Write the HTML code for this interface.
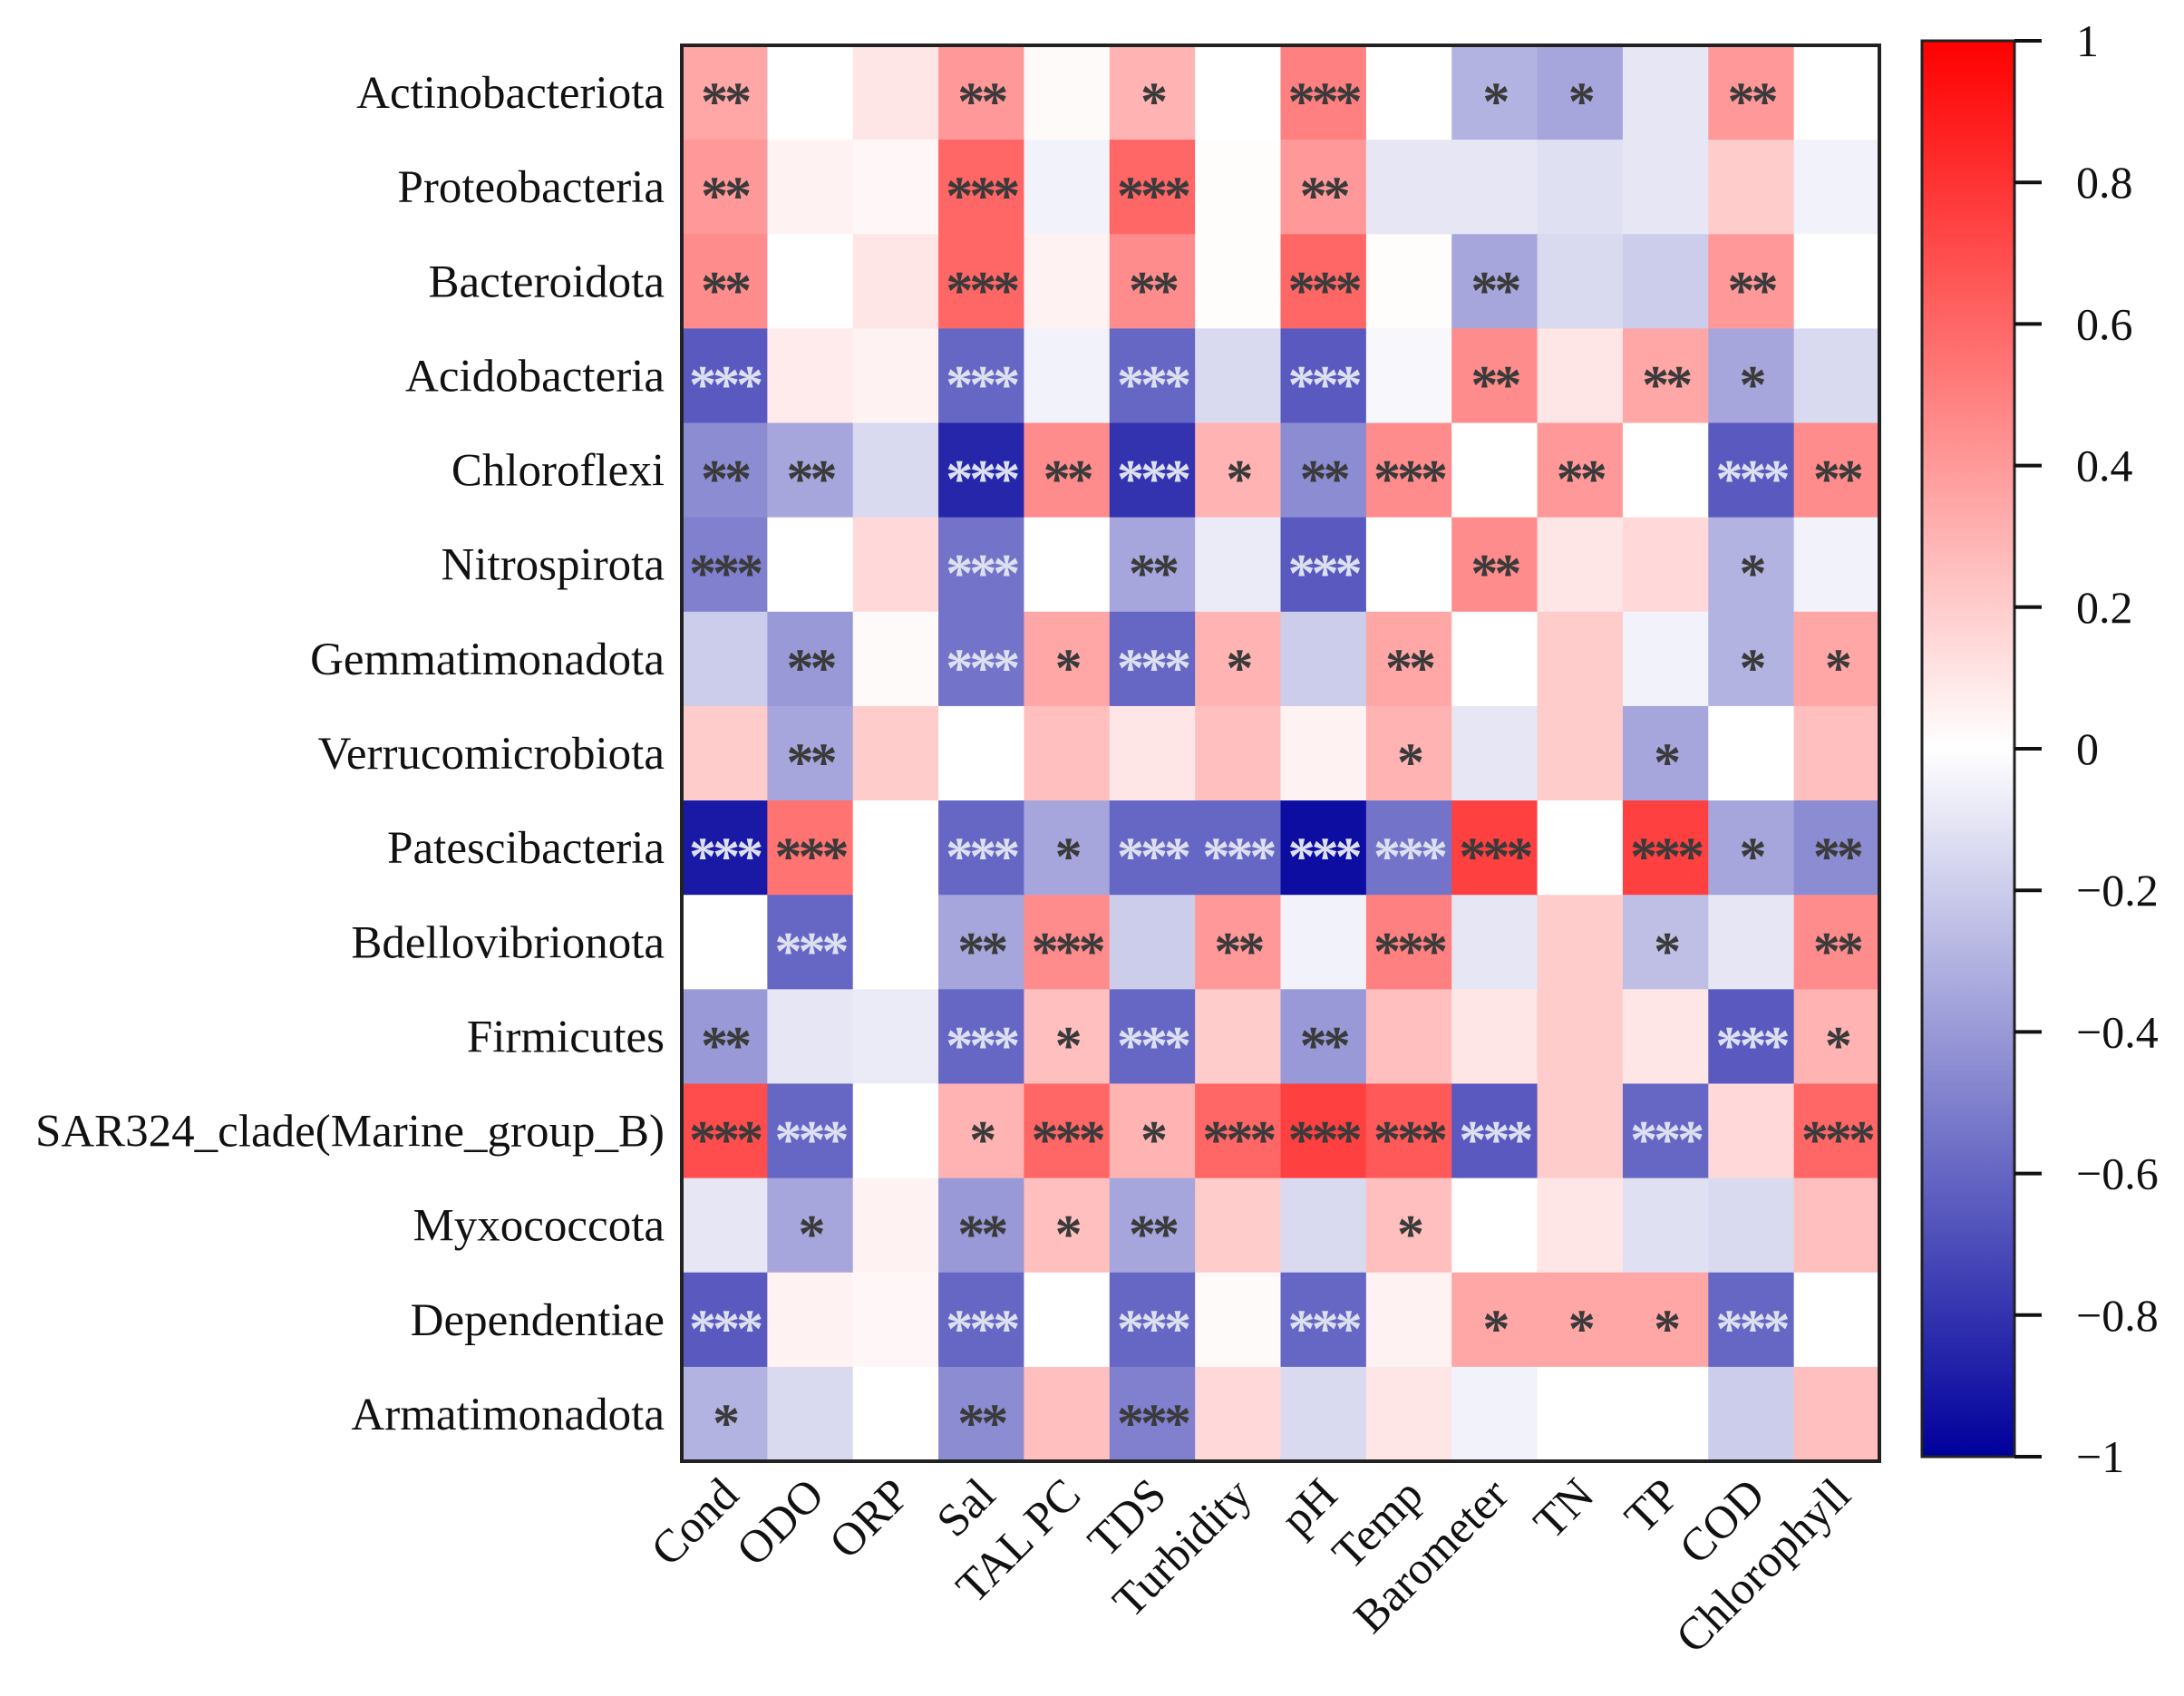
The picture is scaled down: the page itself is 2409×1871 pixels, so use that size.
<!DOCTYPE html>
<html><head><meta charset="utf-8"><style>
html,body{margin:0;padding:0;background:#fff}
svg{display:block;font-family:"Liberation Serif",serif}
</style></head><body>
<svg id="chart" width="2409" height="1871" viewBox="0 0 2409 1871" xmlns="http://www.w3.org/2000/svg">
<defs><linearGradient id="cg" x1="0" y1="1" x2="0" y2="0">
<stop offset="0" stop-color="#00009c"/><stop offset="0.5" stop-color="#ffffff"/><stop offset="1" stop-color="#ff0000"/>
</linearGradient></defs>
<g id="cells"></g><g id="stars"></g><g id="ylabels"></g><g id="xlabels"></g>
<rect x="752" y="50" width="1321" height="1562" fill="none" stroke="#222" stroke-width="4"/>
<rect x="2120" y="45" width="102" height="1562" fill="url(#cg)" stroke="#222" stroke-width="3"/>
<g id="cbticks"></g>
</svg>
<script>
const rows=["Actinobacteriota","Proteobacteria","Bacteroidota","Acidobacteria","Chloroflexi","Nitrospirota","Gemmatimonadota","Verrucomicrobiota","Patescibacteria","Bdellovibrionota","Firmicutes","SAR324_clade(Marine_group_B)","Myxococcota","Dependentiae","Armatimonadota"];
const cols=["Cond","ODO","ORP","Sal","TAL PC","TDS","Turbidity","pH","Temp","Barometer","TN","TP","COD","Chlorophyll"];
const values=[
[0.35,0,0.1,0.4,0.02,0.3,0,0.5,0,-0.3,-0.35,-0.1,0.4,0],
[0.4,0.05,0.03,0.6,-0.05,0.6,0.01,0.4,-0.1,-0.1,-0.12,-0.1,0.2,-0.05],
[0.45,0,0.1,0.6,0.05,0.45,0.01,0.6,0.01,-0.35,-0.15,-0.2,0.4,0],
[-0.65,0.08,0.05,-0.6,-0.05,-0.6,-0.15,-0.65,-0.03,0.45,0.1,0.35,-0.35,-0.15],
[-0.45,-0.35,-0.15,-0.85,0.45,-0.8,0.3,-0.45,0.45,0,0.4,0,-0.65,0.45],
[-0.5,0,0.15,-0.55,0,-0.35,-0.08,-0.65,0,0.45,0.1,0.15,-0.3,-0.05],
[-0.2,-0.4,0.02,-0.55,0.35,-0.6,0.3,-0.2,0.35,0,0.2,-0.05,-0.3,0.35],
[0.2,-0.35,0.2,0,0.25,0.1,0.25,0.05,0.3,-0.1,0.2,-0.35,0,0.25],
[-0.9,0.55,0,-0.6,-0.35,-0.6,-0.6,-0.95,-0.55,0.75,0,0.75,-0.35,-0.45],
[0,-0.6,0,-0.35,0.45,-0.2,0.4,-0.05,0.5,-0.1,0.2,-0.25,-0.1,0.45],
[-0.4,-0.1,-0.08,-0.6,0.25,-0.6,0.2,-0.4,0.25,0.1,0.2,0.1,-0.65,0.3],
[0.7,-0.6,0,0.3,0.6,0.3,0.6,0.75,0.65,-0.65,0.2,-0.6,0.15,0.6],
[-0.1,-0.35,0.05,-0.4,0.25,-0.35,0.2,-0.15,0.25,0,0.1,-0.12,-0.15,0.25],
[-0.65,0.05,0.03,-0.6,0,-0.6,0.02,-0.6,0.05,0.35,0.35,0.35,-0.6,0],
[-0.3,-0.15,0,-0.45,0.25,-0.5,0.15,-0.15,0.1,-0.05,0,0,-0.2,0.25]];
const stars=[
[2,0,0,2,0,1,0,3,0,1,1,0,2,0],
[2,0,0,3,0,3,0,2,0,0,0,0,0,0],
[2,0,0,3,0,2,0,3,0,2,0,0,2,0],
[3,0,0,3,0,3,0,3,0,2,0,2,1,0],
[2,2,0,3,2,3,1,2,3,0,2,0,3,2],
[3,0,0,3,0,2,0,3,0,2,0,0,1,0],
[0,2,0,3,1,3,1,0,2,0,0,0,1,1],
[0,2,0,0,0,0,0,0,1,0,0,1,0,0],
[3,3,0,3,1,3,3,3,3,3,0,3,1,2],
[0,3,0,2,3,0,2,0,3,0,0,1,0,2],
[2,0,0,3,1,3,0,2,0,0,0,0,3,1],
[3,3,0,1,3,1,3,3,3,3,0,3,0,3],
[0,1,0,2,1,2,0,0,1,0,0,0,0,0],
[3,0,0,3,0,3,0,3,0,1,1,1,3,0],
[1,0,0,2,0,3,0,0,0,0,0,0,0,0]];
const cbTicks=[1,0.8,0.6,0.4,0.2,0,-0.2,-0.4,-0.6,-0.8,-1];
const X0=752,Y0=50,W=1321,H=1562,CB0=45,CB1=1607;
const cw=W/cols.length,rh=H/rows.length;
const xs=j=>X0+j*cw, ys=i=>Y0+i*rh, cby=v=>CB0+(1-v)/2*(CB1-CB0);
function color(v){let r,g,b;if(v>=0){r=255;g=Math.round(255*(1-v));b=g;}else{const t=-v;r=Math.round(255*(1-t));g=r;b=Math.round(255-(255-156)*t);}return `rgb(${r},${g},${b})`;}
const NS="http://www.w3.org/2000/svg";
const mk=(t,a)=>{const e=document.createElementNS(NS,t);for(const k in a)e.setAttribute(k,a[k]);return e;};
const gc=document.getElementById('cells'),gs=document.getElementById('stars'),gy=document.getElementById('ylabels'),gx=document.getElementById('xlabels'),gt=document.getElementById('cbticks');
values.forEach((row,i)=>row.forEach((v,j)=>{
 const r=mk('rect',{x:xs(j),y:ys(i),width:cw+0.5,height:rh+0.5,fill:color(v)});
 
 
 gc.appendChild(r);
 const n=stars[i][j];
 if(n){const t=mk('text',{x:xs(j)+cw/2,y:ys(i)+rh/2+30,'text-anchor':'middle','font-size':60,'font-weight':'bold','letter-spacing':-4,fill:(v<-0.5?'#dde0f0':'#3a3a3a')});
 t.textContent='*'.repeat(n);
 
 
 gs.appendChild(t);}
}));
rows.forEach((n,i)=>{const t=mk('text',{x:733,y:ys(i)+rh/2+17,'text-anchor':'end','font-size':51,fill:'#111'});t.textContent=n;
 
 
 gy.appendChild(t);});
cols.forEach((n,j)=>{const cx=xs(j)+cw/2+18,cy=1652;const t=mk('text',{x:cx,y:cy,'text-anchor':'end','font-size':51,fill:'#111',transform:`rotate(-45 ${cx} ${cy})`});t.textContent=n;
 
 
 gx.appendChild(t);});
cbTicks.forEach(v=>{const y=cby(v);const l=mk('line',{x1:2222,x2:2252,y1:y,y2:y,stroke:'#111','stroke-width':4});
 
 
 gt.appendChild(l);
 const t=mk('text',{x:2290,y:y+17,'font-size':50,fill:'#111'});t.textContent=(v<0?'\u2212':'')+Math.abs(v);
 
 
 gt.appendChild(t);});
</script>
</body></html>
